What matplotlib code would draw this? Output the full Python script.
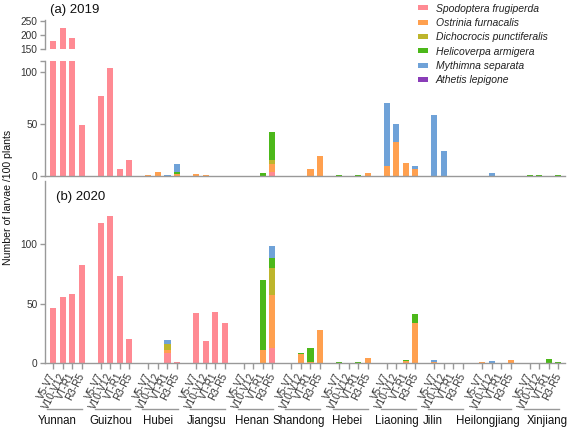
import matplotlib
matplotlib.use("Agg")
import matplotlib.pyplot as plt
import numpy as np
from matplotlib.transforms import blended_transform_factory
from matplotlib.patches import Patch

plt.rcParams['font.family'] = ['Liberation Sans', 'DejaVu Sans']

provinces = ["Yunnan", "Guizhou", "Hubei", "Jiangsu", "Henan", "Shandong",
             "Hebei", "Liaoning", "Jilin", "Heilongjiang", "Xinjiang"]
stages = ["V5-V7", "V10-V12", "VT-R1", "R3-R5"]
species = ["Spodoptera frugiperda", "Ostrinia furnacalis", "Dichocrocis punctiferalis",
           "Helicoverpa armigera", "Mythimna separata", "Athetis lepigone"]
colors = ["#FF8A93", "#FFA04F", "#BDB52C", "#4CB81A", "#6FA2D8", "#8A3DB8"]

# 2019 values (per province: V5-V7, V10-V12, VT-R1, R3-R5)
sf_2019 = [179, 227, 190, 49.5,  77, 104, 7, 15,  0, 0, 0, 0,  0, 0, 0, 0,
           0, 0, 0, 4,  0, 0, 0, 0,  0, 0, 0, 0,  0, 0, 0, 0,  0, 0, 0, 0,
           0, 0, 0, 0,  0, 0, 0, 0]
of_2019 = [0, 0, 0, 0,  0, 0, 0, 0,  1, 3.5, 0, 1.5,  1.5, 0.7, 0, 0,
           0, 0, 0, 7.5,  0, 0, 7, 19.5,  0, 0, 0, 2.5,  10, 33, 13, 6.5,
           0, 0, 0, 0,  0, 0, 0, 0,  0, 0, 0, 0]
dp_2019 = [0, 0, 0, 0,  0, 0, 0, 0,  0, 0, 0, 0,  0, 0, 0, 0,
           0, 0, 0, 4,  0, 0, 0, 0,  0, 0, 0, 0,  0, 0, 0, 0,
           0, 0, 0, 0,  0, 0, 0, 0,  0, 0, 0, 0]
ha_2019 = [0, 0, 0, 0,  0, 0, 0, 0,  0, 0, 0, 2,  0, 0, 0, 0,
           0, 0, 2.5, 26.5,  0, 0, 0, 0,  0.5, 0, 0.5, 0,  0, 0, 0, 0,
           0, 0, 0, 0,  0, 0, 0, 0,  1, 1, 0, 1]
ms_2019 = [0, 0, 0, 0,  0, 0, 0, 0,  0, 0, 1, 8.5,  0, 0, 0, 0,
           0, 0, 0, 0,  0, 0, 0, 0,  0, 0, 0, 0,  60, 17, 0, 3.5,
           59, 24.5, 0, 0,  0, 3, 0, 0,  0, 0, 0, 0]
al_2019 = [0] * 44

# 2020 values
sf_2020 = [46.5, 55.7, 58, 82,  117.6, 123.5, 73.4, 20,  0, 0, 8.4, 0.5,  41.7, 18.2, 42.9, 33.9,
           0, 0, 0, 12.9,  0, 0, 0, 0,  0, 0, 0, 0,  0, 0, 0, 0,
           0, 0, 0, 0,  0, 0, 0, 0,  0, 0, 0, 0]
of_2020 = [0, 0, 0, 0,  0, 0, 0, 0,  0, 0, 2.6, 0,  0, 0, 0, 0,
           0, 0, 11, 44.1,  0, 7.3, 0.8, 27.5,  0, 0, 0, 4.2,  0, 0.3, 1.7, 33.9,
           1.2, 0, 0, 0,  0.8, 0, 0.3, 2.5,  0, 0, 0, 0]
dp_2020 = [0, 0, 0, 0,  0, 0, 0, 0,  0, 0, 5.2, 0,  0, 0, 0, 0,
           0, 0, 0, 22.8,  0, 0, 0, 0,  0, 0, 0, 0,  0, 0, 0, 0,
           0, 0, 0, 0,  0, 0, 0, 0,  0, 0, 0, 0]
ha_2020 = [0, 0, 0, 0,  0, 0, 0, 0,  0, 0, 0, 0,  0, 0, 0, 0,
           0, 0, 58.7, 8.4,  0, 1.1, 11.8, 0,  0.5, 0, 1.2, 0,  0, 0, 0.8, 7.3,
           0, 0, 0, 0,  0, 0, 0, 0,  0, 0, 3.1, 1]
ms_2020 = [0, 0, 0, 0,  0, 0, 0, 0,  0, 0, 3.1, 0,  0, 0, 0, 0,
           0, 0, 0, 9.8,  0, 0, 0, 0,  0, 0, 0, 0,  0, 0, 0, 0,
           1.3, 0, 0, 0,  0, 1.5, 0, 0,  0, 0, 0, 0]
al_2020 = [0] * 44

data_2019 = [sf_2019, of_2019, dp_2019, ha_2019, ms_2019, al_2019]
data_2020 = [sf_2020, of_2020, dp_2020, ha_2020, ms_2020, al_2020]

# layout: province-name centres (pixels from left)
name_px = [57.5, 111, 158.5, 207, 251.5, 298.5, 347, 397, 433, 487.5, 547]

W, H = 572, 428
fig = plt.figure(figsize=(W / 100, H / 100), dpi=100)

def rect(x0, y0, x1, y1):
    return [x0 / W, 1 - y1 / H, (x1 - x0) / W, (y1 - y0) / H]

ax_top = fig.add_axes(rect(45, 20, 565, 49))
ax_a = fig.add_axes(rect(45, 61, 565, 176))
ax_b = fig.add_axes(rect(45, 181, 565, 363))

n_g, n_s = len(provinces), len(stages)
xpos = np.array([5 * g + s for g in range(n_g) for s in range(n_s)], dtype=float)
bw = 0.64

spine_c = "#999999"
txt_c = "#333333"

def draw(ax, data):
    bottom = np.zeros(len(xpos))
    for vals, c in zip(data, colors):
        v = np.array(vals, dtype=float)
        ax.bar(xpos, v, bw, bottom=bottom, color=c, edgecolor='none')
        bottom += v
    ax.set_xlim(-0.85, 53.7)
    for sp in ['top', 'right']:
        ax.spines[sp].set_visible(False)
    for sp in ['left', 'bottom']:
        ax.spines[sp].set_color(spine_c)
        ax.spines[sp].set_linewidth(1.0)
    ax.tick_params(axis='y', colors=spine_c, labelcolor=txt_c, labelsize=7.3,
                   length=3.5, width=1.0, pad=2)
    ax.patch.set_alpha(0)

draw(ax_top, data_2019)
draw(ax_a, data_2019)
draw(ax_b, data_2020)

ax_top.set_ylim(150, 255)
ax_top.set_yticks([150, 200, 250])
ax_top.spines['bottom'].set_visible(False)
ax_top.set_xticks([])

ax_a.set_ylim(0, 111)
ax_a.set_yticks([0, 50, 100, 111], ['0', '50', '100', ''])
ax_a.set_xticks([])

ax_b.set_ylim(0, 153)
ax_b.set_yticks([0, 50, 100])
ax_b.set_xticks(xpos)
ax_b.set_xticklabels(stages * n_g, rotation=63, ha='right', va='center',
                     rotation_mode='anchor', fontsize=7.2, color=txt_c)
ax_b.tick_params(axis='x', colors=spine_c, labelcolor=txt_c, length=4.5, width=1.0, pad=3)

trans = blended_transform_factory(ax_b.transData, ax_b.transAxes)
for g, name in enumerate(provinces):
    x0 = 5 * g - 0.65
    x1 = 5 * g + 3.05
    ax_b.plot([x0, x1], [-0.255, -0.255], color=spine_c, lw=1.0,
              transform=trans, clip_on=False)
    fig.text(name_px[g] / W, 1 - 421 / H, name, ha='center', va='center',
             fontsize=8.3, color='#111111')

fig.text(50 / W, 1 - 10 / H, "(a) 2019", fontsize=9.5, va='center', ha='left', color='#111111')
fig.text(56 / W, 1 - 197 / H, "(b) 2020", fontsize=9.5, va='center', ha='left', color='#111111')
fig.text(8 / W, 1 - 197 / H, "Number of larvae /100 plants", rotation=90, fontsize=7.6,
         va='center', ha='center', color='#111111')

handles = [Patch(facecolor=c, edgecolor='none') for c in colors]
leg = fig.legend(handles, species, loc='upper left', bbox_to_anchor=(418 / W, 1 - 3.5 / H),
                 frameon=False, fontsize=7.45, handlelength=1.0, handleheight=0.4,
                 handletextpad=0.72, labelspacing=0.42, borderpad=0, borderaxespad=0)
for t in leg.get_texts():
    t.set_fontstyle('italic')
    t.set_color('#222222')

fig.savefig("out.png", dpi=100)
